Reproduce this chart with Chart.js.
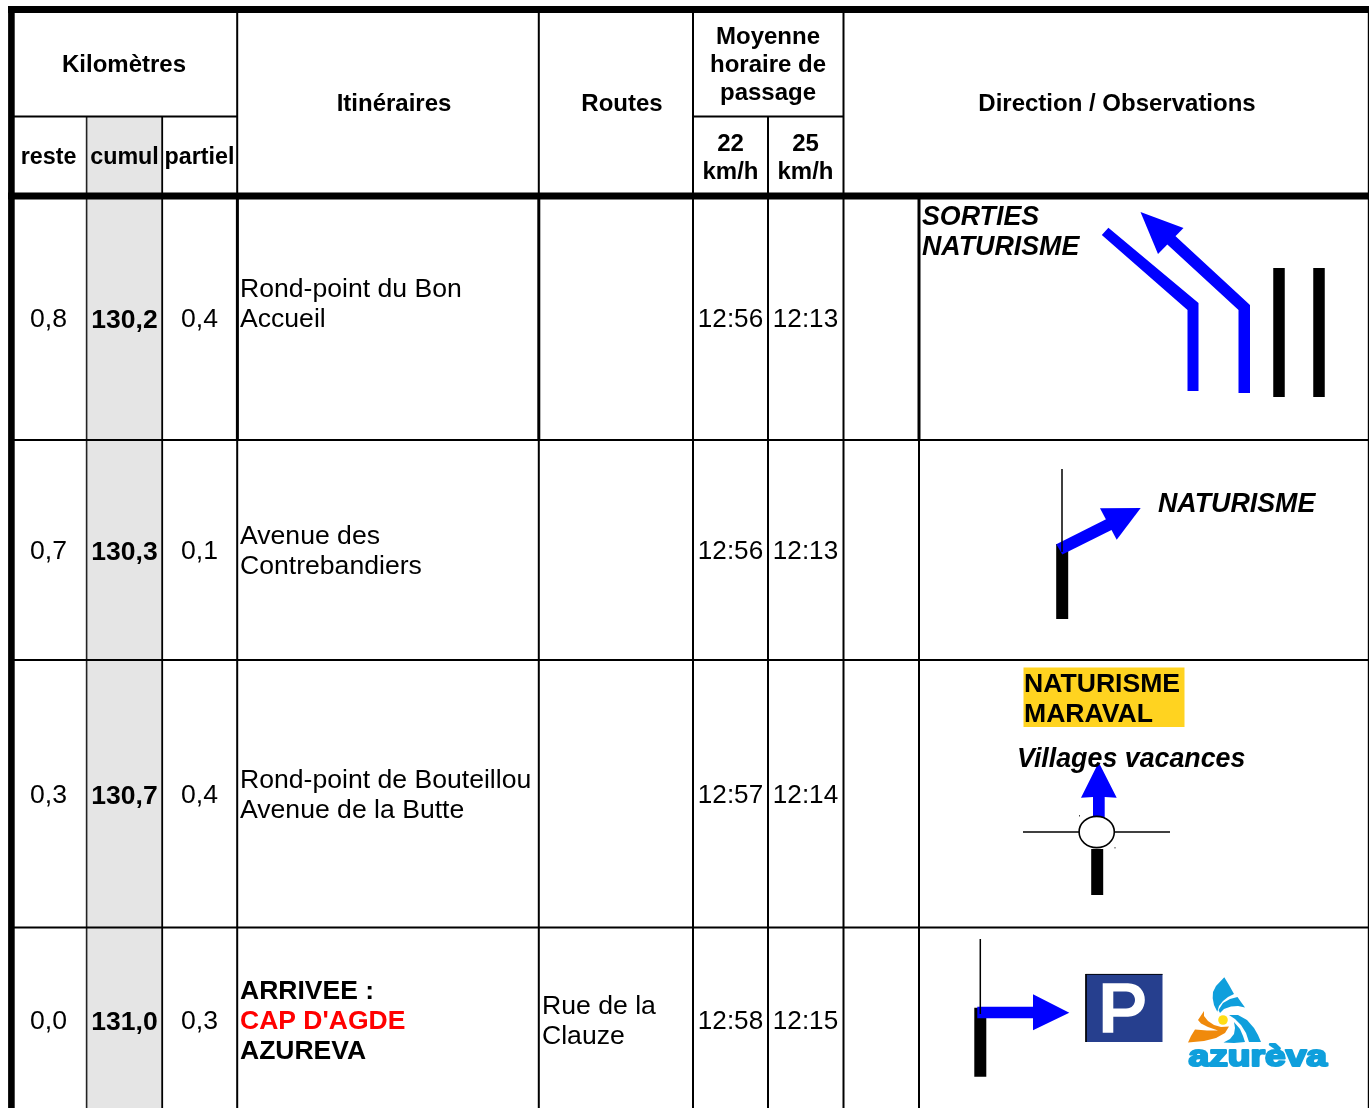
<!DOCTYPE html>
<html>
<head>
<meta charset="utf-8">
<script src="https://cdn.jsdelivr.net/npm/chart.js@4/dist/chart.umd.min.js"></script>
<style>
    html, body { margin: 0; padding: 0; background: #fff; overflow: hidden; }
    canvas { display: block; }
</style>
</head>
<body>
<canvas id="roadBook" width="1369" height="1108"></canvas>
<script>
// Table content
const kmHeaders = ['reste', 'cumul', 'partiel'];
const speedHeaders = [['22', 'km/h'], ['25', 'km/h']];
const reste = ['0,8', '0,7', '0,3', '0,0'];
const cumul = ['130,2', '130,3', '130,7', '131,0'];
const partiel = ['0,4', '0,1', '0,4', '0,3'];
const itineraires = [
    ['Rond-point du Bon', 'Accueil'],
    ['Avenue des', 'Contrebandiers'],
    ['Rond-point de Bouteillou', 'Avenue de la Butte'],
    ['ARRIVEE :', "CAP D'AGDE", 'AZUREVA']
];
const routes = [[], [], [], ['Rue de la', 'Clauze']];
const time22 = ['12:56', '12:56', '12:57', '12:58'];
const time25 = ['12:13', '12:13', '12:14', '12:15'];

// Table layout, in scale units
const kmColumns = [48.5, 124.5, 199.5];
const speedColumns = [730.5, 805.5];
const rowCentres = [320, 552, 796, 1022];
const itineraryTops = [290, 537, 781, 992];

const BLACK = '#000000';
const BLUE = '#0000ff';
const FONT = '"Liberation Sans", Arial, sans-serif';

// marks are listed bottom first
const marks = [];

function rule(x1, y1, x2, y2, width, color) {
    marks.push({
        data: [{ x: x1, y: y1 }, { x: x2, y: y2 }],
        borderColor: color || BLACK,
        borderWidth: width,
        pointRadius: 0,
        fill: false
    });
}

function polygon(points, color) {
    marks.push({
        data: points.map(p => ({ x: p[0], y: p[1] })),
        borderColor: color,
        backgroundColor: color,
        borderWidth: 0,
        pointRadius: 0,
        fill: 'shape'
    });
}

function buildTableRules() {
    polygon([[87, 117], [162, 117], [162, 1108], [87, 1108], [87, 117]], '#e5e5e5');

    // inner columns
    rule(86.6, 116, 86.6, 1108, 1.6, '#222');
    rule(162.2, 116, 162.2, 1108, 1.8);
    rule(237.2, 13, 237.2, 199, 2);
    rule(237.4, 199, 237.4, 440, 3);
    rule(237.2, 440, 237.2, 1108, 2);
    rule(538.8, 13, 538.8, 199, 2);
    rule(538.8, 199, 538.8, 440, 3);
    rule(538.8, 440, 538.8, 1108, 2);
    rule(693, 13, 693, 1108, 2);
    rule(768, 116, 768, 1108, 2);
    rule(843.5, 13, 843.5, 1108, 2);
    rule(919, 199, 919, 440, 3);
    rule(919, 440, 919, 1108, 2);
    rule(1368.6, 13, 1368.6, 1108, 1.6);

    // rows
    rule(14, 116.5, 237, 116.5, 2);
    rule(693, 116.5, 843, 116.5, 2);
    rule(14, 440, 1369, 440, 2);
    rule(14, 660, 1369, 660, 2);
    rule(14, 927.6, 1369, 927.6, 2);

    // heavy frame
    rule(8, 9.6, 1369, 9.6, 7);
    rule(8, 196, 1369, 196, 7);
    rule(11.4, 6, 11.4, 1108, 6.6);
}

function buildDirectionSigns() {
    // row 1: lanes
    rule(1279, 268, 1279, 397, 11.5);
    rule(1319, 268, 1319, 397, 11.5);
    polygon([[1187.5, 391], [1198.5, 391], [1198.5, 303], [1108.4, 227.7], [1101.8, 235], [1187.5, 310], [1187.5, 391]], BLUE);
    polygon([[1238.5, 393], [1250, 393], [1250, 305], [1171, 232], [1163, 240.5], [1238.5, 310], [1238.5, 393]], BLUE);
    polygon([[1140.5, 212], [1183.5, 228], [1158, 254], [1140.5, 212]], BLUE);

    // row 2
    rule(1062.2, 544, 1062.2, 619, 12);
    polygon([[1056.3, 544.3], [1108, 518.3], [1114.5, 528.5], [1062.3, 554.5], [1056.3, 544.3]], BLUE);
    polygon([[1140.7, 508], [1100, 508.3], [1116.7, 539.7], [1140.7, 508]], BLUE);
    rule(1062, 469, 1062, 552, 1.5);

    // row 3
    polygon([[1023.5, 667.5], [1184.5, 667.5], [1184.5, 727], [1023.5, 727], [1023.5, 667.5]], '#ffd320');
    rule(1023, 832, 1170, 832, 1.6);
    rule(1097.2, 849, 1097.2, 895, 12);
    polygon([[1093, 820], [1104.7, 820], [1104.7, 797], [1116.7, 797.7], [1098.7, 762.3], [1081, 797.7], [1093, 797], [1093, 820]], BLUE);

    // row 4
    rule(980.3, 1007.7, 980.3, 1076.7, 12);
    polygon([[977.3, 1006.7], [1033, 1006.7], [1033, 994.3], [1069.3, 1012.7], [1033, 1030.3], [1033, 1018.3], [977.3, 1018.3], [977.3, 1006.7]], BLUE);
    rule(980.3, 939, 980.3, 1014, 1.5);
    polygon([[1085.7, 974], [1162.5, 974], [1162.5, 1042], [1085.7, 1042], [1085.7, 974]], '#263f8e');
    rule(1085.7, 974.4, 1162.5, 974.4, 0.9);
    rule(1086, 974, 1086, 1042, 0.9);
}

buildTableRules();
buildDirectionSigns();

function label(chart, text, x, y, font, align, color) {
    const { ctx, scales } = chart;
    ctx.font = font + ' ' + FONT;
    ctx.textAlign = align || 'center';
    ctx.textBaseline = 'middle';
    ctx.fillStyle = color || BLACK;
    ctx.fillText(text, scales.x.getPixelForValue(x), scales.y.getPixelForValue(y));
}

function drawTableText(chart) {
    const head = 'bold 24px';
    const kmHead = 'bold 23.3px';
    const body = '26.6px';
    const time = '26.1px';
    const bold = 'bold 26.5px';

    label(chart, 'Kilomètres', 124, 65, head);
    kmHeaders.forEach((h, i) => label(chart, h, kmColumns[i], 158, kmHead));
    label(chart, 'Itinéraires', 394, 104, head);
    label(chart, 'Routes', 622, 104, head);
    ['Moyenne', 'horaire de', 'passage'].forEach((t, i) => label(chart, t, 768, 37 + i * 28, head));
    speedHeaders.forEach((lines, i) => lines.forEach((t, j) => label(chart, t, speedColumns[i], 144 + j * 28, head)));
    label(chart, 'Direction / Observations', 1117, 104, head);

    rowCentres.forEach((y, i) => {
        label(chart, reste[i], kmColumns[0], y, body);
        label(chart, cumul[i], kmColumns[1], y + 1, bold);
        label(chart, partiel[i], kmColumns[2], y, body);
        label(chart, time22[i], speedColumns[0], y, time);
        label(chart, time25[i], speedColumns[1], y, time);
        itineraires[i].forEach((t, j) => {
            const arrival = i === 3;
            label(chart, t, 240, itineraryTops[i] + j * 30, arrival ? bold : body, 'left',
                arrival && j === 1 ? '#ff0000' : BLACK);
        });
        routes[i].forEach((t, j) => label(chart, t, 542, y - 15 + j * 30, body, 'left'));
    });
}

function drawSignText(chart) {
    const italic = 'italic bold 26.8px';
    label(chart, 'SORTIES', 922, 218, italic, 'left');
    label(chart, 'NATURISME', 922, 248, italic, 'left');
    label(chart, 'NATURISME', 1158, 505, italic, 'left');
    label(chart, 'NATURISME', 1024, 685, 'bold 26.6px', 'left');
    label(chart, 'MARAVAL', 1024, 715, 'bold 26.6px', 'left');
    label(chart, 'Villages vacances', 1017, 760, italic, 'left');
}

function drawRoundabout(chart) {
    const { ctx, scales } = chart;
    ctx.beginPath();
    ctx.ellipse(scales.x.getPixelForValue(1096.7), scales.y.getPixelForValue(832), 17.6, 15.6, 0, 0, Math.PI * 2);
    ctx.fillStyle = '#fff';
    ctx.fill();
    ctx.lineWidth = 1.6;
    ctx.strokeStyle = BLACK;
    ctx.stroke();
    ctx.fillStyle = '#444';
    ctx.fillRect(scales.x.getPixelForValue(1079), scales.y.getPixelForValue(815), 1, 1.5);
    ctx.fillRect(scales.x.getPixelForValue(1114.5), scales.y.getPixelForValue(847), 1, 1.5);
}

function drawParkingLetter(chart) {
    const { ctx } = chart;
    ctx.beginPath();
    ctx.moveTo(1102.7, 1032.7);
    ctx.lineTo(1102.7, 983.3);
    ctx.lineTo(1128, 983.3);
    ctx.bezierCurveTo(1150.5, 983.3, 1150.5, 1016.7, 1128, 1016.7);
    ctx.lineTo(1113.3, 1016.7);
    ctx.lineTo(1113.3, 1032.7);
    ctx.closePath();
    ctx.moveTo(1113.3, 991.5);
    ctx.lineTo(1113.3, 1008.5);
    ctx.lineTo(1126, 1008.5);
    ctx.bezierCurveTo(1138, 1008.5, 1138, 991.5, 1126, 991.5);
    ctx.closePath();
    ctx.fillStyle = '#fff';
    ctx.fill('evenodd');
}

function drawLogo(chart) {
    const { ctx } = chart;
    const blue = '#0f9fdc';
    const orange = '#f08a0c';
    const blade = (color, points) => {
        ctx.beginPath();
        points.forEach((p, i) => i ? ctx.lineTo(p[0], p[1]) : ctx.moveTo(p[0], p[1]));
        ctx.closePath();
        ctx.fillStyle = color;
        ctx.fill();
    };
    blade(blue, [[1224.3, 977.3], [1229, 985], [1234, 994], [1228, 997], [1223, 1001], [1219, 1006], [1217.3, 1011.7], [1214, 1005], [1212.7, 998.3], [1213, 992], [1216, 986]]);
    blade(blue, [[1218.5, 1010], [1223, 1003], [1230, 999], [1237.5, 997], [1241, 1002], [1245, 1007.5], [1238, 1006], [1231, 1006.5], [1224, 1009], [1220, 1013]]);
    blade(blue, [[1229, 1015], [1238, 1015], [1247, 1020], [1254, 1028], [1258, 1035], [1261, 1042], [1249, 1042], [1246, 1033], [1241, 1025], [1235, 1019]]);
    blade(blue, [[1223.5, 1042.5], [1230, 1039], [1234, 1034], [1235, 1028], [1234, 1022], [1240, 1029], [1243, 1036], [1245, 1042], [1234, 1043]]);
    blade(orange, [[1204, 1011], [1204, 1016], [1208, 1021], [1214, 1025], [1221, 1027], [1229, 1026.5], [1225, 1033], [1216, 1038], [1204, 1041], [1188, 1042.5], [1191, 1036], [1195, 1029.5], [1207, 1030.5], [1218, 1030.5], [1208, 1027], [1201, 1023.5], [1198, 1020]]);
    ctx.beginPath();
    ctx.arc(1223, 1020, 4.8, 0, Math.PI * 2);
    ctx.fillStyle = '#ffdd15';
    ctx.fill();

    ctx.save();
    ctx.translate(1188.5, 1066);
    ctx.scale(1.24, 1);
    ctx.font = 'bold 30px ' + FONT;
    ctx.textAlign = 'left';
    ctx.textBaseline = 'alphabetic';
    ctx.fillStyle = blue;
    ctx.strokeStyle = blue;
    ctx.lineWidth = 2.2;
    ctx.lineJoin = 'round';
    ctx.strokeText('azurèva', 0, 0);
    ctx.fillText('azurèva', 0, 0);
    ctx.restore();
}

const tableOverlay = {
    id: 'tableOverlay',
    afterDatasetsDraw(chart) {
        drawRoundabout(chart);
        drawParkingLetter(chart);
        drawLogo(chart);
        drawTableText(chart);
        drawSignText(chart);
    }
};

new Chart(document.getElementById('roadBook'), {
    type: 'line',
    // Chart.js paints the first dataset last
    data: { datasets: marks.slice().reverse() },
    options: {
        responsive: false,
        animation: false,
        events: [],
        layout: { padding: 0 },
        scales: {
            x: { type: 'linear', min: 0, max: 1369, display: false },
            y: { type: 'linear', min: 0, max: 1108, reverse: true, display: false }
        },
        plugins: { legend: { display: false }, tooltip: { enabled: false } }
    },
    plugins: [tableOverlay]
});
</script>
</body>
</html>
